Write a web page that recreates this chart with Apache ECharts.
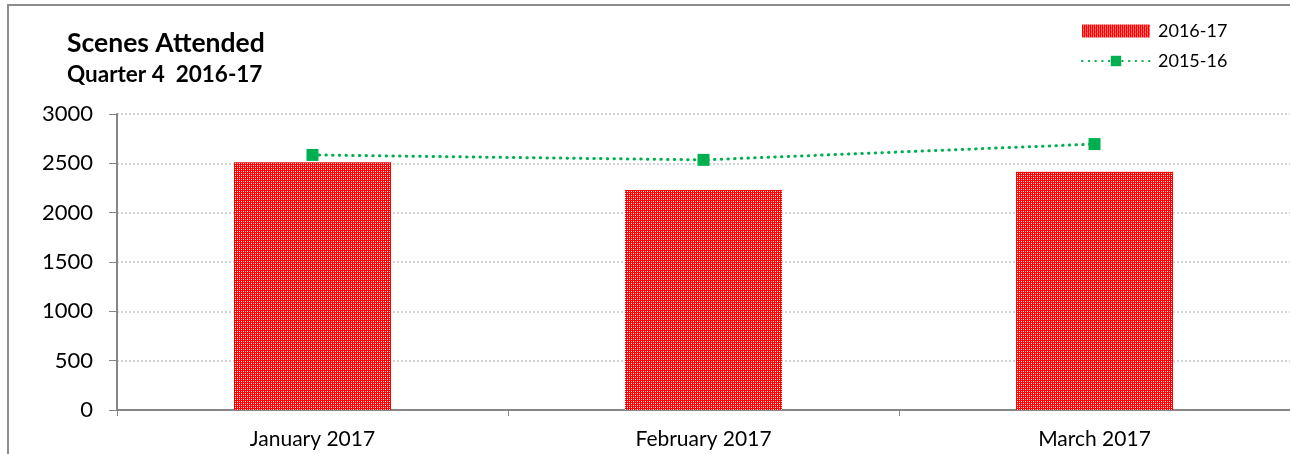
<!DOCTYPE html>
<html>
<head>
<meta charset="utf-8">
<script src="https://cdn.jsdelivr.net/npm/echarts@6/dist/echarts.min.js"></script>
<style>
  html, body { margin: 0; padding: 0; background: #fff; }
  #frame { position: absolute; left: 7px; top: 4px; width: 1400px; height: 600px; border-left: 2px solid #8c8c8c; border-top: 2px solid #8c8c8c; }
  #chart { position: absolute; left: 0; top: 0; width: 1290px; height: 454px; }
</style>
</head>
<body>
<div id="frame"></div>
<div id="chart"></div>
<script>
const categories = ['January 2017', 'February 2017', 'March 2017'];
const scenes1617 = [2510, 2230, 2415];
const scenes1516 = [2585, 2535, 2695];
const yTicks = { min: 0, max: 3000, interval: 500 };

// red/white dotted fill like the spreadsheet pattern
function makePattern() {
  const c = document.createElement('canvas');
  c.width = 8;
  c.height = 8;
  const ctx = c.getContext('2d');
  ctx.fillStyle = '#ff0000';
  ctx.fillRect(0, 0, 8, 8);
  ctx.fillStyle = '#ffffff';
  [[1, 1], [3, 3], [5, 5], [7, 7], [1, 5], [5, 1], [3, 7], [7, 3]].forEach(([x, y]) => ctx.fillRect(x, y, 1, 1));
  ctx.fillStyle = '#ff9a9a';
  [[1, 3], [3, 1], [5, 7], [7, 5], [3, 5], [5, 3], [1, 7], [7, 1]].forEach(([x, y]) => ctx.fillRect(x, y, 1, 1));
  return c;
}

const barFill = { image: makePattern(), repeat: 'repeat' };
const font = 'Lato, "Open Sans", sans-serif';

const chart = echarts.init(document.getElementById('chart'), null, { renderer: 'canvas' });
chart.setOption({
  backgroundColor: 'transparent',
  animation: false,
  textStyle: { fontFamily: font },
  title: {
    text: 'Scenes Attended',
    subtext: 'Quarter 4  2016-17',
    left: 62,
    top: 25,
    itemGap: 6,
    textStyle: { fontFamily: font, fontSize: 26.5, fontWeight: 'bold', color: '#000' },
    subtextStyle: { fontFamily: font, fontSize: 22.5, fontWeight: 'bold', color: '#000' }
  },
  legend: {
    orient: 'vertical',
    left: 1081,
    top: 22,
    padding: 0,
    itemWidth: 68,
    itemHeight: 13,
    itemGap: 12,
    textStyle: { fontFamily: font, fontSize: 18, color: '#000', padding: [0, 0, 0, 3] },
    data: [
      { name: '2016-17', icon: 'rect', itemStyle: { color: barFill } },
      { name: '2015-16' }
    ]
  },
  grid: { left: 117, top: 114, width: 1176, height: 296 },
  xAxis: {
    type: 'category',
    data: categories,
    axisLine: { lineStyle: { color: '#868686', width: 2 } },
    axisTick: { show: true, length: 6, lineStyle: { color: '#868686', width: 1 } },
    axisLabel: { color: '#000', fontSize: 21, margin: 19, fontFamily: font }
  },
  yAxis: {
    type: 'value',
    min: yTicks.min,
    max: yTicks.max,
    interval: yTicks.interval,
    axisLine: { show: true, lineStyle: { color: '#868686', width: 2 } },
    axisTick: { show: true, length: 8, lineStyle: { color: '#868686', width: 1 } },
    axisLabel: { color: '#000', fontSize: 22, margin: 24, fontFamily: font, formatter: (v) => String(v) },
    splitLine: { lineStyle: { color: '#c4c4c4', type: [2, 2], width: 1.5 } }
  },
  series: [
    {
      name: '2016-17',
      type: 'bar',
      data: scenes1617,
      barWidth: 157,
      itemStyle: { color: barFill }
    },
    {
      name: '2015-16',
      type: 'line',
      data: scenes1516,
      symbol: 'rect',
      symbolSize: 12,
      itemStyle: { color: '#00b050' },
      lineStyle: { color: '#00b050', width: 3, type: [0.5, 6.2], cap: 'round' }
    }
  ]
});
</script>
</body>
</html>
